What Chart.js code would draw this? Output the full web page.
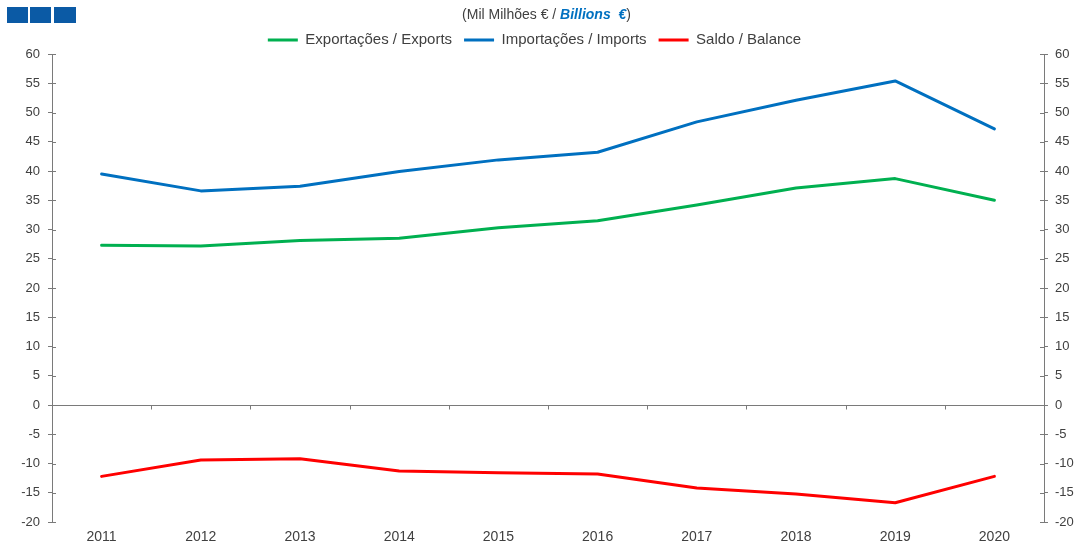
<!DOCTYPE html>
<html>
<head>
<meta charset="utf-8">
<script src="https://cdn.jsdelivr.net/npm/chart.js@4/dist/chart.umd.min.js"></script>
<style>
  html, body { margin: 0; padding: 0; background: #fff; }
  #wrap { position: relative; width: 1083px; height: 547px; }
  #c { position: absolute; left: 0; top: 0; }
  .sq { position: absolute; top: 7px; width: 21px; height: 16px; background: #0B5AA5; }
  #title { position: absolute; left: 5px; width: 1083px; top: 6px; text-align: center;
           font-family: "Liberation Sans", Arial, sans-serif; font-size: 14px; color: #404040; }
  #title b { color: #0070C0; font-style: italic; }
</style>
</head>
<body>
<div id="wrap">
  <canvas id="c" width="1083" height="547"></canvas>
  <div class="sq" style="left:7px"></div>
  <div class="sq" style="left:30px"></div>
  <div class="sq" style="left:54px;width:22px"></div>
  <div id="title">(Mil Milhões € / <b>Billions&nbsp; €</b>)</div>
</div>
<script>
const years = ['2011','2012','2013','2014','2015','2016','2017','2018','2019','2020'];
const exportsData = [27.3, 27.2, 28.1, 28.5, 30.3, 31.5, 34.2, 37.1, 38.7, 35.0];
const importsData = [39.5, 36.6, 37.4, 39.9, 41.9, 43.2, 48.4, 52.1, 55.4, 47.2];
const balanceData = [-12.2, -9.4, -9.2, -11.3, -11.6, -11.8, -14.2, -15.2, -16.7, -12.2];
const seriesNames = ['Exportações / Exports', 'Importações / Imports', 'Saldo / Balance'];
const yMin = -20, yMax = 60, yStep = 5;

const AXIS = '#7a7a7a';
const FAMILY = '"Liberation Sans", Arial, sans-serif';
const FONT_Y = { family: FAMILY, size: 13 };
const FONT_X = { family: FAMILY, size: 14 };
const FONT_LEG = { family: FAMILY, size: 15 };

const axisPlugin = {
  id: 'axisDeco',
  beforeInit(chart) {
    const lg = chart.legend;
    if (lg) {
      const orig = lg.fit.bind(lg);
      lg.fit = function () { orig(); this.height = 33.5; };
    }
  },
  afterLayout(chart) {
    const lg = chart.legend;
    if (lg) { lg.left -= 7; lg.right -= 7; }
  },
  afterDatasetsDraw(chart) {
    const ctx = chart.ctx, x = chart.scales.x, y = chart.scales.y, ca = chart.chartArea;
    const y0 = Math.round(y.getPixelForValue(0)) + 0.5;
    ctx.save();
    ctx.strokeStyle = AXIS;
    ctx.lineWidth = 1;
    ctx.beginPath();
    ctx.moveTo(ca.left, y0); ctx.lineTo(ca.right, y0);
    const n = years.length;
    for (let i = 0; i < n - 1; i++) {
      const xb = Math.round((x.getPixelForValue(i) + x.getPixelForValue(i + 1)) / 2) + 0.5;
      ctx.moveTo(xb, y0); ctx.lineTo(xb, y0 + 4);
    }
    y.ticks.forEach(t => {
      const py = Math.round(y.getPixelForValue(t.value)) + 0.5;
      ctx.moveTo(ca.left, py); ctx.lineTo(ca.left + 4, py);
      ctx.moveTo(ca.right, py); ctx.lineTo(ca.right - 4, py);
    });
    ctx.stroke();
    ctx.restore();
  }
};

const yCommon = {
  min: yMin, max: yMax,
  ticks: { stepSize: yStep, color: '#404040', font: FONT_Y },
  grid: { drawOnChartArea: false, drawTicks: true, tickLength: 4, tickColor: AXIS },
  border: { display: true, color: AXIS, width: 1 }
};

new Chart(document.getElementById('c'), {
  type: 'line',
  data: {
    labels: years,
    datasets: [
      { label: seriesNames[0], data: exportsData, borderColor: '#00B050', backgroundColor: '#00B050', borderWidth: 3 },
      { label: seriesNames[1], data: importsData, borderColor: '#0070C0', backgroundColor: '#0070C0', borderWidth: 3 },
      { label: seriesNames[2], data: balanceData, borderColor: '#FF0000', backgroundColor: '#FF0000', borderWidth: 3 }
    ]
  },
  options: {
    responsive: false,
    animation: false,
    devicePixelRatio: 1,
    layout: { padding: { top: 20.5, left: 0, right: 0, bottom: 0 } },
    elements: {
      line: { borderWidth: 3, tension: 0, borderCapStyle: 'round', borderJoinStyle: 'round' },
      point: { radius: 0, hoverRadius: 0 }
    },
    plugins: {
      legend: {
        position: 'top',
        labels: {
          usePointStyle: true, pointStyle: 'line', pointStyleWidth: 30,
          padding: 12, color: '#404040', font: FONT_LEG
        }
      },
      tooltip: { enabled: false }
    },
    scales: {
      x: {
        type: 'category',
        offset: true,
        grid: { display: false, drawTicks: false },
        border: { display: false },
        ticks: { color: '#404040', font: FONT_X, padding: 7, maxRotation: 0 },
        afterFit(s) { s.height = 25; }
      },
      y: Object.assign({}, yCommon, {
        position: 'left',
        ticks: Object.assign({}, yCommon.ticks, { padding: 8 }),
        afterFit(s) { s.width = 52; }
      }),
      y2: Object.assign({}, yCommon, {
        position: 'right',
        ticks: Object.assign({}, yCommon.ticks, { padding: 7 }),
        afterFit(s) { s.width = 39; }
      })
    }
  },
  plugins: [axisPlugin]
});
</script>
</body>
</html>
